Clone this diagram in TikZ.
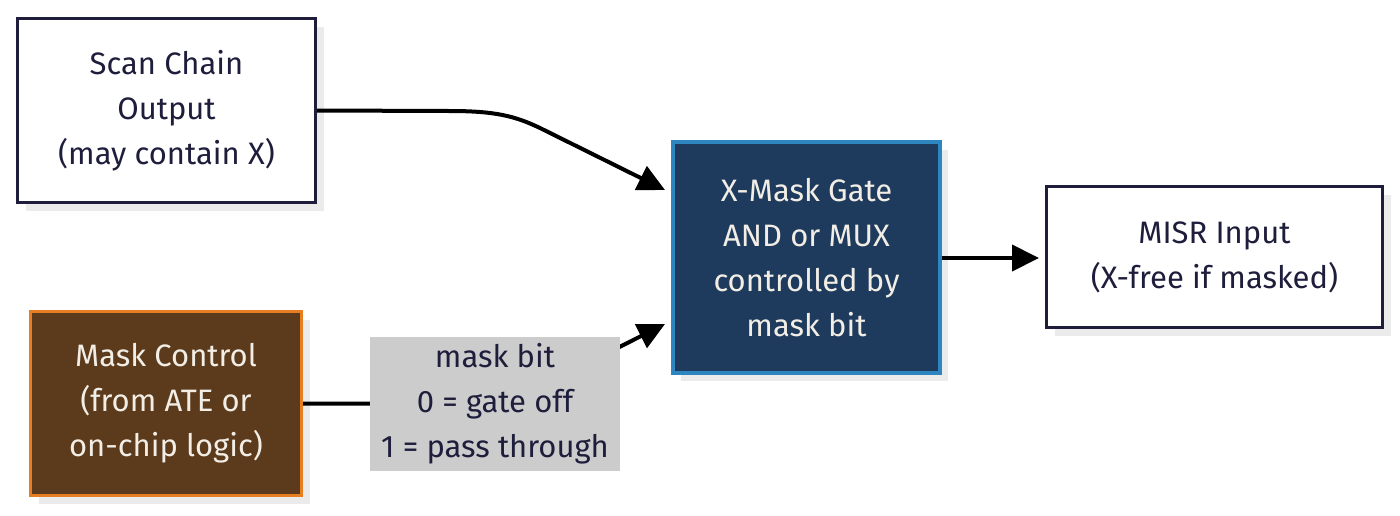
\documentclass[tikz,border=0pt]{standalone}
\usepackage{fontspec}
\setmainfont{Fira Sans}
\usetikzlibrary{arrows.meta,shadows}
\definecolor{inkdark}{HTML}{1E1E3C}
\definecolor{gatefill}{HTML}{1E3A5C}
\definecolor{gateline}{HTML}{2E86C1}
\definecolor{mcfill}{HTML}{5C3A1C}
\definecolor{mcline}{HTML}{E67E22}
\definecolor{lblfill}{HTML}{CCCCCC}
\definecolor{shadowc}{HTML}{EBEBEB}
\definecolor{lighttext}{HTML}{F2EEE6}
\tikzset{
  box/.style={draw, line width=3pt, align=center, inner sep=0pt,
    font=\fontsize{31}{45}\selectfont,
    drop shadow={shadow xshift=8pt, shadow yshift=-8pt, fill=shadowc, opacity=1}},
  whitebox/.style={box, fill=white, draw=inkdark, text=inkdark},
  conn/.style={line width=4pt, draw=black, -{Triangle[length=27pt,width=26pt]}},
}
\begin{document}
\begin{tikzpicture}[x=1pt,y=-1pt]
\useasboundingbox (0,0) rectangle (1400,515);
\node[whitebox, minimum width=298pt, minimum height=184pt] (sc) at (166.5,110.5)
  {Scan Chain\\Output\\(may contain X)};
\node[box, fill=mcfill, draw=mcline, text=lighttext, minimum width=271pt, minimum height=184pt] (mc) at (166,403.5)
  {Mask Control\\(from ATE or\\on-chip logic)};
\node[box, fill=gatefill, draw=gateline, line width=3.5pt, text=lighttext, minimum width=267pt, minimum height=231pt] (gate) at (806.5,257.5)
  {X-Mask Gate\\AND or MUX\\controlled by\\mask bit};
\node[whitebox, minimum width=336pt, minimum height=141pt] (misr) at (1214.5,257)
  {MISR Input\\(X-free if masked)};
\coordinate (g1) at (665,190);
\coordinate (g2) at (665,324);
\coordinate (m1) at (1039,258);
\draw[conn] (sc.east) -- (450,111) .. controls (495,111) and (515,116) .. (540,128) -- (g1);
\draw[conn] (mc.east) -- (450,404) .. controls (495,404) and (515,399) .. (540,387) -- (g2);
\draw[conn] (gate.east |- m1) -- (m1);
\node[fill=lblfill, text=inkdark, align=center, inner sep=0pt, minimum width=250pt, minimum height=134pt,
  font=\fontsize{31}{45}\selectfont] (lbl) at (495,404)
  {mask bit\\0 = gate off\\1 = pass through};
\end{tikzpicture}
\end{document}
